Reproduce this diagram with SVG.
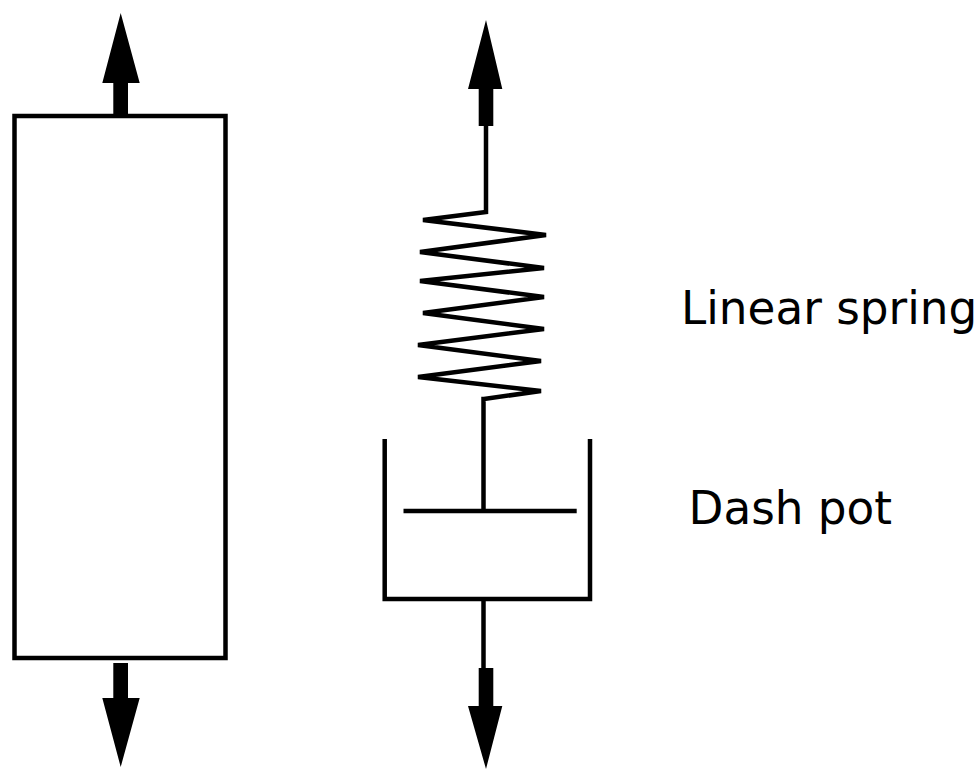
<svg xmlns="http://www.w3.org/2000/svg" width="977" height="769" viewBox="0 0 977 769">
<style>
.w{fill:none;stroke:#000;stroke-width:4.5;stroke-linejoin:miter}
.a{fill:#000;stroke:none}
text{font-family:"DejaVu Sans","Liberation Sans",sans-serif;font-size:45.3px;fill:#000}
</style>
<rect width="977" height="769" fill="#fff"/>
<g id="block"><rect class="w" x="14.500" y="116" width="211" height="542"/></g>
<g id="connectors">
<path class="w" d="M486 126V212L423 220L546 235L420 252L544 268L420 281L544 297L423 313L544 329L418 345L541 361L418 377L541 391L484 399L483.500 399V511"/>
<path class="w" d="M483.500 599V668"/>
<path class="a" d="M120.700 13L139.700 83H128V116H113.300V83H102.300Z"/>
<path class="a" d="M120.700 767L139.700 698H128V663H113.300V698H102.300Z"/>
<path class="a" d="M486 20L502.300 89H493.300V126H478.700V89H468Z"/>
<path class="a" d="M486 769L502.300 706H493.300V668H478.700V706H468Z"/>
</g>
<g id="dashpot"><path class="w" d="M384.700 439V599H590V439"/><path class="w" d="M403.500 511H576.700"/></g>
<g id="label-spring"><text x="681" y="323.500">Linear spring</text></g>
<g id="label-dashpot"><text x="688.500" y="523.500">Dash pot</text></g>
</svg>
